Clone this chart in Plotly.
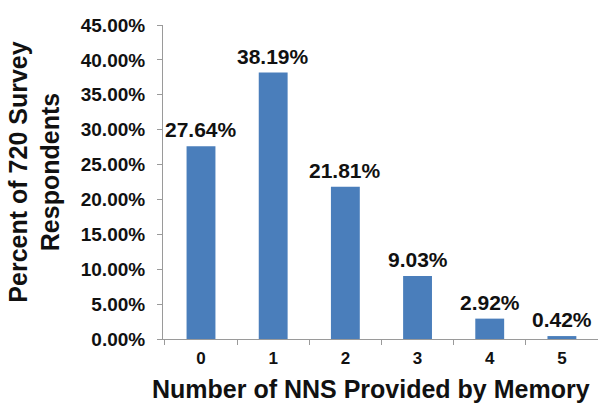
import plotly.graph_objects as go

categories = ["0", "1", "2", "3", "4", "5"]
percent_values = [27.64, 38.19, 21.81, 9.03, 2.92, 0.42]
y_tick_values = [0, 5, 10, 15, 20, 25, 30, 35, 40, 45]
y_tick_labels = [f"{v:.2f}%" for v in y_tick_values]
data_labels = [f"{v:.2f}%" for v in percent_values]

FONT = "Arial, 'Liberation Sans', sans-serif"

fig = go.Figure(
    go.Bar(
        x=categories,
        y=percent_values,
        marker=dict(color="#4A7EBB", line=dict(width=0)),
        width=0.4,
        cliponaxis=False,
    )
)

label_annotations = [
    dict(
        x=c, y=v, xref="x", yref="y",
        text=t,
        xanchor="center", yanchor="bottom",
        yshift=3,
        showarrow=False,
        font=dict(family=FONT, size=21, weight="bold", color="#111111"),
    )
    for c, v, t in zip(categories, percent_values, data_labels)
]

fig.update_layout(
    width=598,
    height=405,
    margin=dict(l=163, r=0, t=25, b=66),
    paper_bgcolor="white",
    plot_bgcolor="white",
    showlegend=False,
    font=dict(family=FONT, color="#111111"),
    xaxis=dict(
        type="category",
        showline=True,
        linecolor="#9a9a9a",
        linewidth=1,
        ticks="outside",
        tickson="boundaries",
        ticklen=5,
        tickcolor="#9a9a9a",
        tickfont=dict(family=FONT, size=17, weight="bold", color="#111111"),
        ticklabelstandoff=4,
        showgrid=False,
        zeroline=False,
    ),
    yaxis=dict(
        range=[0, 45],
        tickvals=y_tick_values,
        ticktext=y_tick_labels,
        showline=True,
        linecolor="#9a9a9a",
        linewidth=1,
        ticks="outside",
        ticklen=5,
        tickcolor="#9a9a9a",
        tickfont=dict(family=FONT, size=19, weight="bold", color="#111111"),
        ticklabelstandoff=8,
        showgrid=False,
        zeroline=False,
    ),
    annotations=label_annotations + [
        dict(
            text="Number of NNS Provided by Memory",
            xref="paper", yref="paper",
            x=0.478, y=-0.158,
            xanchor="center", yanchor="middle",
            showarrow=False,
            font=dict(family=FONT, size=25, weight="bold", color="#111111"),
        ),
        dict(
            text="Percent of 720 Survey<br>Respondents",
            xref="paper", yref="paper",
            x=-0.295, y=0.532,
            xanchor="center", yanchor="middle",
            textangle=-90,
            showarrow=False,
            font=dict(family=FONT, size=25, weight="bold", color="#111111"),
        ),
    ],
)

fig.write_html("out.html")
